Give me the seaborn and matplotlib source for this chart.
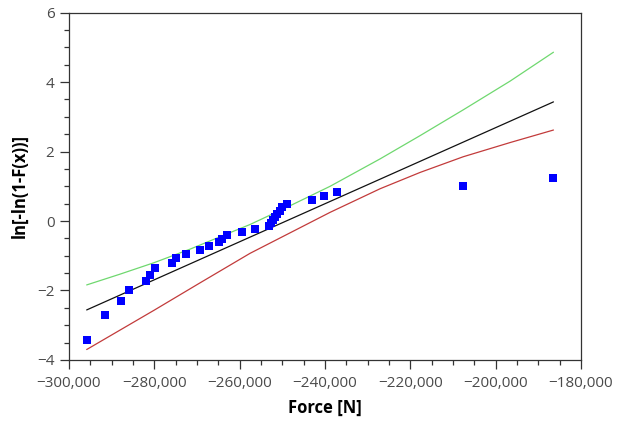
import numpy as np
import pandas as pd
import matplotlib
matplotlib.use("Agg")
import matplotlib.pyplot as plt
from matplotlib.ticker import MultipleLocator, FuncFormatter
import seaborn as sns

# Observed failure forces [N] and their Weibull plotting positions
force = [-295850, -291450, -287800, -285930, -281870, -281000, -279770,
         -275850, -274840, -272500, -269280, -267170, -264760, -264200,
         -262880, -259440, -256390, -253220, -252750, -252160, -251690,
         -251220, -250640, -250050, -249000, -243100, -240210, -237230,
         -207550, -186450]
lnln = [-3.42, -2.71, -2.29, -1.98, -1.74, -1.54, -1.36, -1.21, -1.07,
        -0.94, -0.83, -0.71, -0.61, -0.51, -0.41, -0.32, -0.23, -0.14,
        -0.05, 0.04, 0.12, 0.21, 0.30, 0.40, 0.50, 0.60, 0.72, 0.85,
        1.01, 1.23]

# Fitted Weibull line
fit_x = [-295850, -186450]
fit_y = [-2.56, 3.43]

# Upper confidence bound
upper_x = [-295850, -288040, -280070, -271630, -262950, -257560, -248180,
           -238800, -227070, -217690, -207610, -196590, -186450]
upper_y = [-1.84, -1.53, -1.20, -0.81, -0.37, -0.10, 0.44,
           1.00, 1.79, 2.46, 3.20, 4.03, 4.86]

# Lower confidence bound
lower_x = [-295850, -280070, -269280, -257560, -248180, -238800, -227070,
           -217690, -207610, -196590, -186450]
lower_y = [-3.70, -2.57, -1.78, -0.93, -0.34, 0.25, 0.93,
           1.40, 1.85, 2.26, 2.62]

sns.set_theme(style="ticks")
plt.rcParams["font.family"] = ["Open Sans", "DejaVu Sans"]

fig = plt.figure(figsize=(6.27, 4.21), dpi=100)
ax = fig.add_axes([0.110, 0.145, 0.8166, 0.825])

sns.lineplot(x=upper_x, y=upper_y, ax=ax, color="#6fd86f", linewidth=0.9,
             estimator=None, sort=False)
sns.lineplot(x=lower_x, y=lower_y, ax=ax, color="#c23b3b", linewidth=0.9,
             estimator=None, sort=False)
sns.lineplot(x=fit_x, y=fit_y, ax=ax, color="#111111", linewidth=0.9,
             estimator=None, sort=False)
sns.scatterplot(x=force, y=lnln, ax=ax, marker="s", s=38, color="#0000ff",
                linewidth=0, zorder=5)

ax.set_xlim(-300000, -180000)
ax.set_ylim(-4, 6)
ax.xaxis.set_major_locator(MultipleLocator(20000))
ax.xaxis.set_minor_locator(MultipleLocator(5000))
ax.yaxis.set_major_locator(MultipleLocator(2))
ax.yaxis.set_minor_locator(MultipleLocator(0.5))
ax.xaxis.set_major_formatter(
    FuncFormatter(lambda v, p: f"{v:,.0f}".replace("-", "\u2212")))
ax.yaxis.set_major_formatter(
    FuncFormatter(lambda v, p: f"{v:.0f}".replace("-", "\u2212")))

for side in ["top", "right", "left", "bottom"]:
    ax.spines[side].set_visible(True)
    ax.spines[side].set_color("#333333")
    ax.spines[side].set_linewidth(0.9)

ax.tick_params(which="major", length=6.5, width=0.9, color="#333333",
               labelsize=11, labelcolor="#4a4a4a")
ax.tick_params(axis="x", which="major", pad=5)
ax.tick_params(axis="y", which="major", pad=4)
ax.tick_params(which="minor", length=3.6, width=0.9, color="#333333")

ax.set_xlabel("Force [N]", fontsize=12, fontweight="bold", color="black",
              labelpad=6)
ax.set_ylabel("ln[-ln(1-F(x))]", fontsize=12, fontweight="bold",
              color="black", labelpad=6)

fig.savefig("out.png", dpi=100)
